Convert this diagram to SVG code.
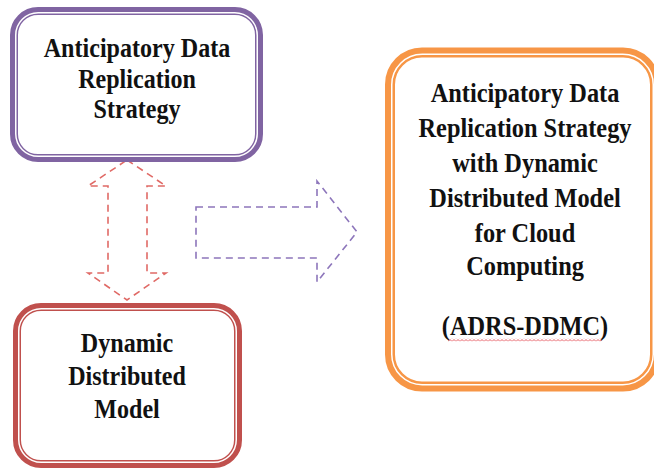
<svg xmlns="http://www.w3.org/2000/svg" width="654" height="470" viewBox="0 0 654 470">
<defs>
<style>
.t{font-weight:bold;font-size:28px;fill:#111;text-anchor:middle}
.gap{fill:none;stroke:#fff;stroke-width:1.5}
.dash{fill:none;stroke-width:1.6;stroke-dasharray:7 5}
</style>
<pattern id="squig" x="0" y="0" width="4" height="3" patternUnits="userSpaceOnUse">
<polyline points="0,2.5 2,0.5 4,2.5" fill="none" stroke="#e0303a" stroke-width="0.8"/>
</pattern>
</defs>
<rect width="654" height="470" fill="#fff"/>
<g id="connectors">
<polygon class="dash" stroke="#e06a66" points="127,160 166,186 147,186 147,273 166,273 127,300 88,273 108,273 108,186 88,186"/>
<polygon class="dash" stroke="#8d76bb" points="196,207 317,207 317,181 357,232 317,282 317,258 196,258"/>
</g>
<g id="node-adrs">
<rect x="14" y="11" width="245" height="147" rx="24" fill="#fff" stroke="#8064a2" stroke-width="8"/>
<rect x="15.75" y="12.75" width="241.5" height="143.5" rx="22.5" class="gap"/>
<g transform="translate(137,0) scale(0.86,1)" font-family="Liberation Serif, serif">
<text class="t" x="0" y="57">Anticipatory Data</text>
<text class="t" x="0" y="88">Replication</text>
<text class="t" x="0" y="118">Strategy</text>
</g>
</g>
<g id="node-ddm">
<rect x="17" y="307" width="221" height="157" rx="24" fill="#fff" stroke="#c0504d" stroke-width="8"/>
<rect x="18.75" y="308.75" width="217.5" height="153.5" rx="22.5" class="gap"/>
<g transform="translate(127,0) scale(0.86,1)" font-family="Liberation Serif, serif">
<text class="t" x="0" y="352">Dynamic</text>
<text class="t" x="0" y="385">Distributed</text>
<text class="t" x="0" y="418">Model</text>
</g>
</g>
<g id="node-adrs-ddmc">
<rect x="390" y="52.5" width="265" height="334" rx="32" fill="#fff" stroke="#f79646" stroke-width="10"/>
<rect x="391.75" y="54.25" width="261.5" height="330.5" rx="30.5" class="gap"/>
<g transform="translate(525,0) scale(0.87,1)" font-family="Liberation Serif, serif">
<text class="t" x="0" y="102">Anticipatory Data</text>
<text class="t" x="0" y="137">Replication Strategy</text>
<text class="t" x="0" y="172">with Dynamic</text>
<text class="t" x="0" y="207">Distributed Model</text>
<text class="t" x="0" y="242">for Cloud</text>
<text class="t" x="0" y="275">Computing</text>
<text class="t" x="0" y="335">(ADRS-DDMC)</text>
</g>
<rect x="448" y="338.5" width="154" height="3" fill="url(#squig)"/>
</g>
</svg>
